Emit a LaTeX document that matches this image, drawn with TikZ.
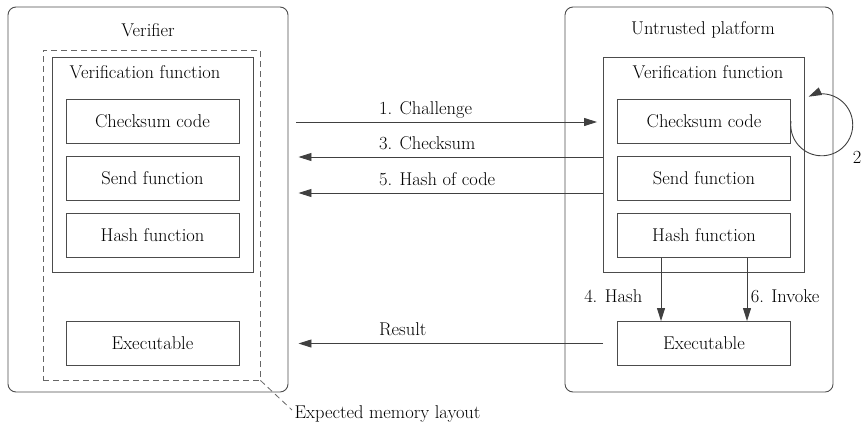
\documentclass[tikz,border=0pt]{standalone}
\usetikzlibrary{arrows.meta}
\tikzset{
	every node/.style={font=\fontsize{18.5}{22}\selectfont},
	hostbox/.style={draw=black!70,line width=0.9pt,rounded corners=8pt,minimum height=385pt,inner sep=0pt},
	layoutbox/.style={draw=black!60,line width=0.8pt,dash pattern=on 6pt off 4pt,minimum width=217pt,minimum height=330pt,inner sep=0pt},
	funcbox/.style={draw=black!70,line width=0.9pt,minimum width=201pt,minimum height=215pt,inner sep=0pt},
	partbox/.style={draw=black!70,line width=0.9pt,minimum width=173pt,minimum height=44pt,inner sep=0pt},
	msg/.style={draw=black!75,line width=0.9pt,-{Triangle[length=13pt,width=8pt]}},
	lbl/.style={anchor=base west,yshift=8pt}
}

\begin{document}
\begin{tikzpicture}[x=1pt,y=-1pt]
    \useasboundingbox (0,0) rectangle (861,429);
    \node[hostbox,minimum width=280pt] (verifier) at (148,199.5) {};
    \node[hostbox,minimum width=268pt] (platform) at (699,199.5) {};
    \node (vtitle) at (148,30) {Verifier};
    \node (ptitle) at (703,30) {Untrusted platform};
    \node[layoutbox] (layout) at (151.5,215) {};
    \node[funcbox] (vfunL) at (152.5,164.5) {};
    \node[funcbox] (vfunR) at (704,164.5) {};
    \node (vfunLtxt) at (145,72) {Verification function};
    \node (vfunRtxt) at (708,72) {Verification function};
    \node[partbox] (csL) at (152.5,121) {Checksum code};
    \node[partbox] (sendL) at (152.5,178.5) {Send function};
    \node[partbox] (hashL) at (152.5,235.5) {Hash function};
    \node[partbox] (exeL) at (152.5,343.5) {Executable};
    \node[partbox] (csR) at (704,121) {Checksum code};
    \node[partbox] (sendR) at (704,178.5) {Send function};
    \node[partbox] (hashR) at (704,235.5) {Hash function};
    \node[partbox] (exeR) at (704,343.5) {Executable};
    \draw[msg,shorten <=8pt,shorten >=6pt] (verifier.east |- 0,122) -- node[lbl,pos=0.276]{1. Challenge} (vfunR.west |- 0,122);
    \draw[msg,shorten >=10pt] (vfunR.west |- 0,157) -- node[lbl,pos=0.724]{3. Checksum} (verifier.east |- 0,157);
    \draw[msg,shorten >=10pt] (vfunR.west |- 0,193) -- node[lbl,pos=0.724]{5. Hash of code} (verifier.east |- 0,193);
    \draw[msg,shorten >=10pt] (vfunR.west |- exeR.west) -- node[lbl,pos=0.724]{Result} (verifier.east |- exeR.west);
    \draw[msg] (csR.east) arc[start angle=173,end angle=475,radius=31pt];
    \node (loopnum) at (857,157) {2};
    \draw[msg] ([xshift=-43pt]hashR.south) -- node[pos=0.6,left=15pt]{4. Hash} ([xshift=-43pt]exeR.north);
    \draw[msg] ([xshift=43pt]hashR.south) -- node[pos=0.6,right=0pt]{6. Invoke} ([xshift=43pt]exeR.north);
    \coordinate (memtip) at (292,410);
    \node[anchor=west] (memnote) at (291,414) {Expected memory layout};
    \draw[black!60,line width=0.8pt,dash pattern=on 6pt off 4pt] (layout.south east) -- (memtip);
\end{tikzpicture}
\end{document}
